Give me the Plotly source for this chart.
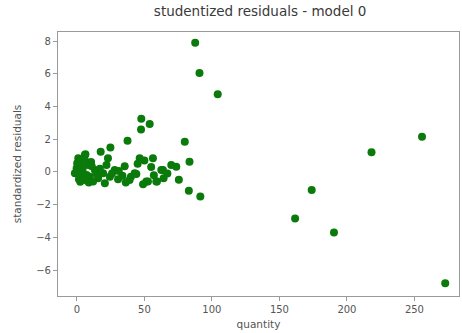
import plotly.graph_objects as go

quantity = [
    87.6, 90.8, 104.3, 218.2, 255.6, 173.9, 161.6, 190.4, 272.8,
    47.7, 53.9, 47.5, 37.5, 79.9, 17.6, 24.8, 83.4, 75.5, 82.9, 91.4,
    6.3, 35.4, 33.7, 36.2, 44.0, 46.5, 56.3, 51.4, 59.3, 63.7, 69.9, 73.6, 64.2,
    42.8, 52.6, 58.8, 62.5, 50.0, 55.0, 45.0,
    1.0, 5.9, -0.2, -1.5, 2.2, 8.3, 9.6, 13.3, 15.7, 19.4, 21.9, 24.4, 28.0,
    30.5, 23.0, 20.7, 12.0, 4.2, 7.2, 0.2, 3.5, 1.5, 0.5, 3.0, 5.0, 10.5,
    14.5, 17.0, 26.0, 11.0, 2.5, 6.0, 8.8, 40.0, 49.0, 57.0, 67.0, 31.0, 39.0,
]
residuals = [
    7.9, 6.05, 4.75, 1.2, 2.15, -1.1, -2.85, -3.7, -6.8,
    3.25, 2.93, 2.6, 1.9, 1.85, 1.24, 1.5, 0.63, -0.47, -1.15, -1.5,
    1.08, 0.35, -0.24, -0.65, -0.12, 0.84, 0.84, -0.59, -0.59, 0.12, 0.43, 0.32, -0.39,
    -0.08, -0.59, -0.59, 0.12, 0.7, 0.3, 0.5,
    0.84, 1.04, 0.22, -0.08, -0.29, 0.43, -0.29, 0.12, -0.39, -0.08, 0.43, -0.29, 0.12,
    -0.45, 0.84, -0.69, -0.59, 0.12, -0.18, 0.53, 0.63, -0.45, 0.0, 0.3, -0.5, 0.6,
    -0.1, 0.2, -0.1, 0.35, -0.6, 0.7, -0.65, -0.3, -0.75, -0.2, -0.1, 0.05, -0.5,
]

fig = go.Figure()
fig.add_trace(go.Scatter(
    x=quantity, y=residuals, mode="markers",
    marker=dict(color="#0a7a0a", size=8, line=dict(width=0)),
    showlegend=False,
))

axis_common = dict(
    showgrid=False, zeroline=False, showline=True, mirror=True, automargin=False,
    linecolor="#9a9a9a", linewidth=1.2, ticks="outside", ticklen=4,
    tickcolor="#9a9a9a", tickfont=dict(family="DejaVu Sans", size=10, color="#555555"),
)
fig.update_layout(
    width=462, height=333,
    margin=dict(l=58, r=3, t=32, b=37, autoexpand=False),
    paper_bgcolor="white", plot_bgcolor="white",
    title=dict(text="studentized residuals - model 0", x=0.563, xanchor="center",
               y=0.965, yanchor="middle", automargin=False,
               font=dict(family="DejaVu Sans", size=13.5, color="#3a3a3a")),
    xaxis=dict(range=[-14, 283], tickvals=[0, 50, 100, 150, 200, 250],
               title=dict(text="quantity", standoff=6,
                          font=dict(family="DejaVu Sans", size=10.5, color="#555555")),
               **axis_common),
    yaxis=dict(range=[-7.58, 8.55], tickvals=[-6, -4, -2, 0, 2, 4, 6, 8],
               title=dict(text="standardized residuals", standoff=12,
                          font=dict(family="DejaVu Sans", size=10.5, color="#555555")),
               **axis_common),
)

fig.write_html("out.html", config={"displayModeBar": False},
               post_script="document.body.style.margin='0';document.body.style.overflow='hidden';")
